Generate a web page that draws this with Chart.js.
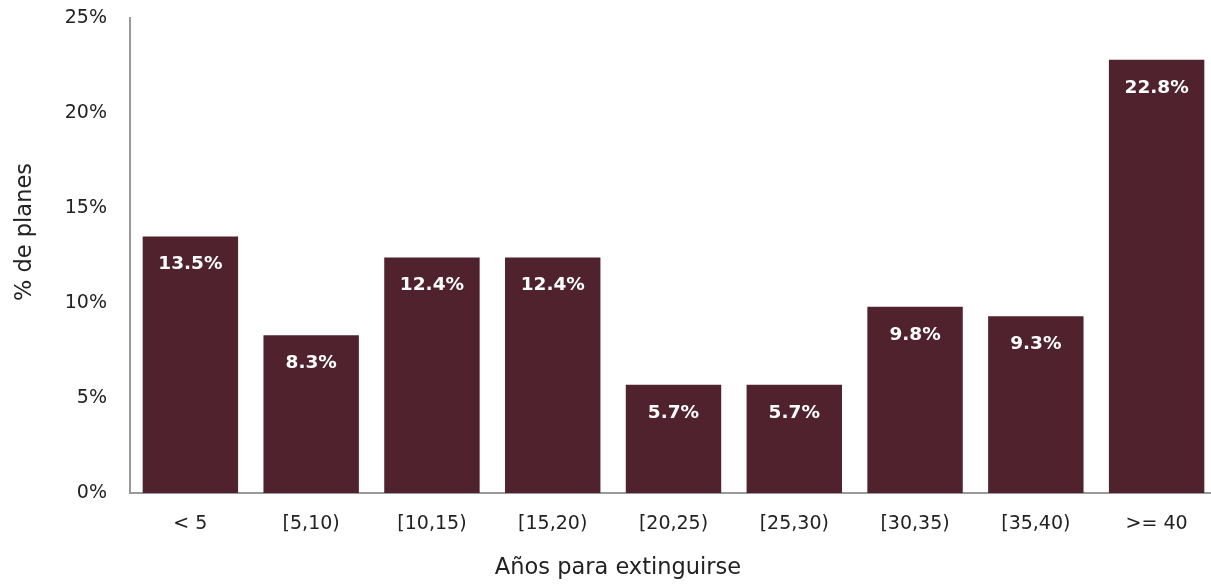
<!DOCTYPE html>
<html>
<head>
<meta charset="utf-8">
<script src="https://cdn.jsdelivr.net/npm/chart.js@4.4.1/dist/chart.umd.min.js"></script>
<style>
  html, body { margin: 0; padding: 0; background: #fff; overflow: hidden; }
  #wrap { width: 1217px; height: 584px; }
</style>
</head>
<body>
<div id="wrap"><canvas id="myChart"></canvas></div>
<script>
const categories = ["< 5", "[5,10)", "[10,15)", "[15,20)", "[20,25)", "[25,30)", "[30,35)", "[35,40)", ">= 40"];
const shares = [13.5, 8.3, 12.4, 12.4, 5.7, 5.7, 9.8, 9.3, 22.8];
const yTicks = [0, 5, 10, 15, 20, 25];
const xTitle = "Años para extinguirse";
const yTitle = "% de planes";

const barColor = "#4f222d";
const fontFamily = "'DejaVu Sans', sans-serif";
Chart.defaults.font.family = fontFamily;
Chart.defaults.color = "#222";

// white bold value inside the top of each bar
const valueLabels = {
  id: "valueLabels",
  afterDatasetsDraw(chart) {
    const c = chart.ctx;
    const meta = chart.getDatasetMeta(0);
    c.save();
    c.fillStyle = "#fff";
    c.font = "bold 18.5px " + fontFamily;
    c.textAlign = "center";
    c.textBaseline = "middle";
    meta.data.forEach((bar, i) => {
      c.fillText(shares[i].toFixed(1) + "%", bar.x, bar.y + 28);
    });
    c.restore();
  }
};

// axis titles
const axisTitles = {
  id: "axisTitles",
  afterDraw(chart) {
    const c = chart.ctx;
    c.save();
    c.fillStyle = "#222";
    c.font = "22.5px " + fontFamily;
    c.textAlign = "center";
    c.textBaseline = "middle";
    c.fillText(xTitle, 618, 568);
    c.translate(25, 232);
    c.rotate(-Math.PI / 2);
    c.fillText(yTitle, 0, 0);
    c.restore();
  }
};

new Chart(document.getElementById("myChart"), {
  type: "bar",
  data: {
    labels: categories,
    datasets: [{
      data: shares,
      backgroundColor: barColor,
      barPercentage: 0.79,
      categoryPercentage: 1.0
    }]
  },
  options: {
    responsive: true,
    maintainAspectRatio: false,
    animation: false,
    layout: { padding: { top: 18, right: 0, left: 0, bottom: 0 } },
    plugins: { legend: { display: false }, tooltip: { enabled: false } },
    scales: {
      x: {
        grid: { display: false, drawTicks: false },
        border: { color: "#999", width: 2 },
        ticks: { font: { size: 19 }, color: "#222", padding: 20, maxRotation: 0 },
        afterFit(scale) { scale.height = 91; }
      },
      y: {
        min: 0,
        max: 25,
        afterBuildTicks(scale) { scale.ticks = yTicks.map(v => ({ value: v })); },
        grid: { display: false, drawTicks: false },
        border: { color: "#999", width: 2 },
        ticks: {
          font: { size: 19 },
          color: "#222",
          padding: 23,
          callback: v => v + "%"
        },
        afterFit(scale) {
          scale.width = 130;
          scale.paddingTop = 0;
          scale.paddingBottom = 0;
        }
      }
    }
  },
  plugins: [valueLabels, axisTitles]
});
</script>
</body>
</html>
